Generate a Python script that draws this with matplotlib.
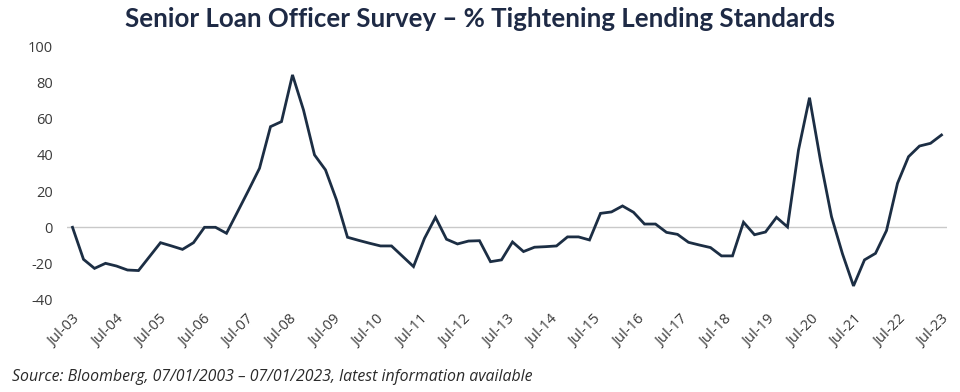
import matplotlib
matplotlib.use("Agg")
import matplotlib.pyplot as plt
import numpy as np
from matplotlib import font_manager as fm

# ---- data ----
tick_labels = ["Jul-03", "Jul-04", "Jul-05", "Jul-06", "Jul-07", "Jul-08", "Jul-09",
               "Jul-10", "Jul-11", "Jul-12", "Jul-13", "Jul-14", "Jul-15", "Jul-16",
               "Jul-17", "Jul-18", "Jul-19", "Jul-20", "Jul-21", "Jul-22", "Jul-23"]

pct_tightening = [
    0.0, -17.7, -22.7, -19.9, -21.4, -23.6, -23.9, -16.2, -8.5, -10.3,
    -12.2, -8.5, 0.0, 0.0, -3.3, 8.5, 20.4, 32.6, 55.6, 58.4,
    84.2, 64.8, 40.0, 31.7, 15.1, -5.5, -7.2, -8.8, -10.3, -10.3,
    -16.0, -21.7, -6.1, 5.5, -6.6, -9.2, -7.6, -7.4, -19.0, -18.0,
    -8.1, -13.4, -11.0, -10.7, -10.3, -5.3, -5.3, -7.0, 7.7, 8.5,
    11.8, 8.3, 1.8, 1.8, -2.8, -3.9, -8.3, -9.8, -11.2, -15.8,
    -15.8, 2.8, -4.1, -2.6, 5.5, 0.2, 42.7, 71.6, 36.8, 5.9,
    -14.7, -32.4, -18.0, -14.4, -1.8, 24.3, 39.0, 44.9, 46.4, 51.0,
]

y_ticks = [-40, -20, 0, 20, 40, 60, 80, 100]

title = "Senior Loan Officer Survey \u2013 % Tightening Lending Standards"
source = "Source: Bloomberg, 07/01/2003 \u2013 07/01/2023, latest information available"

# ---- fonts ----
available = {f.name for f in fm.fontManager.ttflist}
def pick(*names):
    for n in names:
        if n in available:
            return n
    return "DejaVu Sans"

body_font = pick("Open Sans", "Lato", "Noto Sans")
title_font = pick("Lato", "Open Sans", "Noto Sans")
source_font = pick("Liberation Sans Narrow", "Open Sans", "Lato")

plt.rcParams["font.family"] = [body_font, "DejaVu Sans"]

W, H = 960, 392
fig = plt.figure(figsize=(W / 100, H / 100), dpi=100)
fig.patch.set_facecolor("white")

left, right, top, bottom = 67, 947, 46.3, 299.7
ax = fig.add_axes([left / W, 1 - bottom / H, (right - left) / W, (bottom - top) / H])

x = np.arange(len(pct_tightening))
ax.axhline(0, color="#c9c9c9", lw=1.0, zorder=1)
ax.plot(x, pct_tightening, color="#1c2e44", lw=2.0, solid_joinstyle="miter", zorder=2)

ax.set_xlim(-0.5, len(pct_tightening) - 0.5)
ax.set_ylim(-40, 100)
ax.set_yticks(y_ticks)
ax.set_yticklabels([str(v) for v in y_ticks])
ax.set_xticks(np.linspace(0, len(pct_tightening) - 1, len(tick_labels)))
ax.set_xticklabels(tick_labels, rotation=45, ha="right", va="top", rotation_mode="anchor")

for s in ax.spines.values():
    s.set_visible(False)
ax.tick_params(axis="both", length=0, colors="#3a3a3a", labelsize=10.5)
ax.tick_params(axis="y", pad=10)
ax.tick_params(axis="x", pad=9)

fig.text(0.5, 1 - 27 / H, title, ha="center", va="baseline", fontsize=18.6,
         fontweight="bold", color="#1e2a45", family=[title_font, "DejaVu Sans"])
fig.text(12 / W, 1 - 381 / H, source, ha="left", va="baseline", fontsize=11.4,
         style="italic", color="#2a2a2a", family=[source_font, "DejaVu Sans"])

fig.savefig("out.png", dpi=100, facecolor="white")
